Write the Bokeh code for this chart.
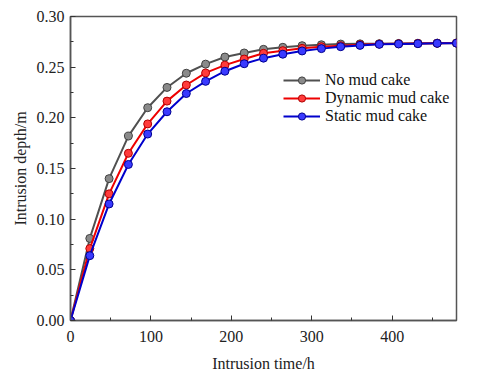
from bokeh.plotting import figure
from bokeh.models import FixedTicker, NumeralTickFormatter, Legend, LegendItem, Range1d
from bokeh.embed import file_html
from bokeh.resources import INLINE

time_h = [0, 24, 48, 72, 96, 120, 144, 168, 192, 216, 240, 264, 288, 312, 336, 360, 384, 408, 432, 456, 480]
no_mud = [0, 0.081, 0.140, 0.182, 0.210, 0.230, 0.244, 0.253, 0.260, 0.264, 0.2676, 0.2696, 0.2712, 0.2721,
          0.2728, 0.2730, 0.2732, 0.2734, 0.2736, 0.2737, 0.2738]
dynamic_mud = [0, 0.071, 0.125, 0.165, 0.194, 0.2165, 0.2324, 0.2443, 0.252, 0.258, 0.2637, 0.2663, 0.2686,
               0.2702, 0.2712, 0.2722, 0.2728, 0.2731, 0.2734, 0.2736, 0.2738]
static_mud = [0, 0.064, 0.115, 0.154, 0.184, 0.206, 0.224, 0.236, 0.246, 0.2534, 0.2589, 0.2628, 0.266,
              0.2683, 0.2702, 0.2715, 0.2725, 0.2729, 0.2732, 0.2735, 0.2737]
labels = ["No mud cake", "Dynamic mud cake", "Static mud cake"]
x_ticks = [0, 100, 200, 300, 400]
x_minor = [50, 150, 250, 350, 450]
y_ticks = [0.0, 0.05, 0.10, 0.15, 0.20, 0.25, 0.30]
y_minor = [0.025, 0.075, 0.125, 0.175, 0.225, 0.275]

FONT = "'Liberation Serif'"

p = figure(width=472, height=374, output_backend="svg", toolbar_location=None,
           x_range=Range1d(0, 480), y_range=Range1d(0, 0.30),
           min_border_left=70, min_border_right=16, min_border_top=16, min_border_bottom=49)
p.grid.visible = False
p.outline_line_color = "#555555"
p.outline_line_width = 1.5
p.background_fill_color = "white"
p.border_fill_color = "white"

p.xaxis.ticker = FixedTicker(ticks=x_ticks, minor_ticks=x_minor)
p.yaxis.ticker = FixedTicker(ticks=y_ticks, minor_ticks=y_minor)
p.yaxis.formatter = NumeralTickFormatter(format="0.00")
for ax in (p.xaxis[0], p.yaxis[0]):
    ax.major_tick_in = 5
    ax.major_tick_out = 0
    ax.minor_tick_in = 3
    ax.minor_tick_out = 0
    ax.axis_line_color = "#555555"
    ax.axis_line_width = 1.5
    ax.major_tick_line_color = "#333333"
    ax.minor_tick_line_color = "#333333"
    ax.major_label_text_font = FONT
    ax.major_label_text_font_size = "16px"
    ax.major_label_text_color = "#222222"
    ax.axis_label_text_font = FONT
    ax.axis_label_text_font_size = "16px"
    ax.axis_label_text_font_style = "normal"
    ax.axis_label_text_color = "#222222"
p.xaxis.axis_label = "Intrusion time/h"
p.yaxis.axis_label = "Intrusion depth/m"
p.xaxis.major_label_standoff = 10
p.xaxis.axis_label_standoff = 10
p.yaxis.major_label_standoff = 6
p.yaxis.axis_label_standoff = 5

series = [
    (no_mud, "#505050", "#8a8a8a", "#404040"),
    (dynamic_mud, "#ee0000", "#ff3b3b", "#b00000"),
    (static_mud, "#0000cc", "#3a3aff", "#00008f"),
]
items = []
for (ys, lc, fc, ec), lab in zip(series, labels):
    l = p.line(time_h, ys, line_color=lc, line_width=2)
    s = p.scatter(time_h, ys, size=8, fill_color=fc, line_color=ec, line_width=1)
    items.append(LegendItem(label=lab, renderers=[l, s]))

legend = Legend(items=items, location=(213, 195))
legend.border_line_color = None
legend.background_fill_alpha = 0
legend.padding = 0
legend.margin = 0
legend.spacing = 0
legend.label_height = 18
legend.glyph_height = 18
legend.glyph_width = 37
legend.label_standoff = 5
legend.label_text_font = FONT
legend.label_text_font_size = "16px"
legend.label_text_color = "#111111"
p.add_layout(legend)

open("out.html", "w").write(file_html(p, INLINE))
